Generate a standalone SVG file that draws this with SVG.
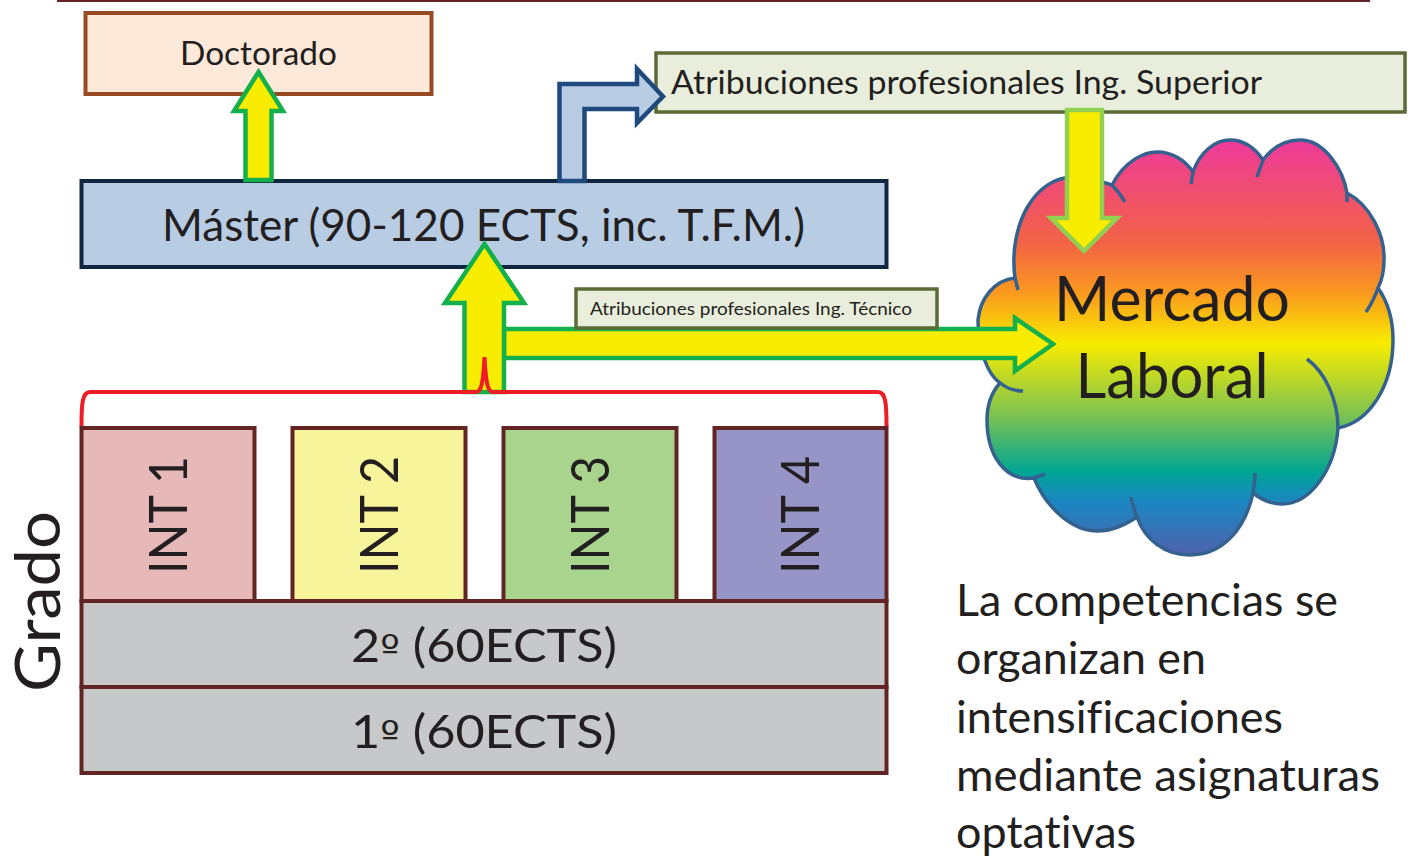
<svg xmlns="http://www.w3.org/2000/svg" width="1416" height="857" viewBox="0 0 1416 857">
<defs>
<style>
text{font-family:Lato,"Open Sans","Liberation Sans",sans-serif;fill:#231f20;font-variant-ligatures:none}
.int{stroke:#632523;stroke-width:4}
.ya{fill:#f8ec00;stroke:#14b04c;stroke-width:4.500;stroke-linejoin:miter}
.ord{font-family:"DejaVu Sans",sans-serif;font-size:38px}
</style>
<linearGradient id="rb" x1="0" y1="0" x2="0" y2="1">
<stop offset="0" stop-color="#ee3a9b"/>
<stop offset="0.25" stop-color="#f26344"/>
<stop offset="0.37" stop-color="#fa9a1e"/>
<stop offset="0.49" stop-color="#f8ec00"/>
<stop offset="0.66" stop-color="#7fc350"/>
<stop offset="0.8" stop-color="#00a494"/>
<stop offset="0.87" stop-color="#1a87c2"/>
<stop offset="1" stop-color="#4e62ac"/>
</linearGradient>
</defs>
<rect width="1416" height="857" fill="#fff"/>
<rect x="57" y="0" width="1313" height="2" fill="#632523"/>

<g id="cloud">
<path fill="url(#rb)" stroke="#35618f" stroke-width="3.500" d="M1015 278C1008 225 1035 176 1075 177C1090 177 1105 183 1112 185C1125 160 1145 152 1157 152C1172 152 1185 160 1193 172C1200 152 1215 140 1230 140C1245 140 1255 148 1263 160C1272 148 1285 140 1300 140C1325 140 1343 170 1347 193C1370 205 1385 235 1384 260C1384 270 1382 280 1378 288C1390 305 1393 325 1393 340C1393 385 1370 422 1338 428C1335 470 1310 504 1282 504C1272 504 1262 500 1253 493C1245 530 1222 555 1190 555C1165 555 1145 540 1137 517C1125 525 1112 531 1098 531C1070 531 1045 505 1034 478C1005 482 987 455 987 420C987 405 992 392 1000 383C988 375 978 350 978 320C980 298 995 280 1015 278Z"/>
<path fill="none" stroke="#35618f" stroke-width="3.500" d="M1015 278L1018 290M1112 185Q1120 193 1125 202M1193 172L1191 184M1263 160L1257 177M1347 193L1347 202M1378 288Q1373 302 1366 312M1338 428C1338 400 1325 372 1307 359M1253 493C1254 487 1255 480 1255 473M1137 517Q1133 507 1131 497M1034 478L1045 474M1000 383Q1010 391 1023 391"/>
<text x="1172" y="321" font-size="62" text-anchor="middle" textLength="236" lengthAdjust="spacingAndGlyphs">Mercado</text>
<text x="1172" y="398" font-size="62" text-anchor="middle" textLength="193" lengthAdjust="spacingAndGlyphs">Laboral</text>
</g>

<g id="doctorado">
<rect x="85.500" y="13" width="346" height="81" fill="#fde9d9" stroke="#974b22" stroke-width="4"/>
<text x="180" y="65" font-size="33" textLength="157" lengthAdjust="spacingAndGlyphs">Doctorado</text>
</g>
<g id="master">
<rect x="81.500" y="181" width="805" height="86" fill="#b8cce4" stroke="#10253f" stroke-width="4"/>
<text x="162" y="241" font-size="45" textLength="643" lengthAdjust="spacingAndGlyphs">Máster (90-120 ECTS, inc. T.F.M.)</text>
</g>
<g id="atrib-superior">
<rect x="656" y="53" width="749" height="59" fill="#e9eedc" stroke="#5a6b35" stroke-width="3.500"/>
<text x="671" y="94" font-size="32" textLength="591" lengthAdjust="spacingAndGlyphs">Atribuciones profesionales Ing. Superior</text>
</g>

<g id="connectors">
<path class="ya" d="M258.500 72L283 111H271.500V180H245.500V111H234Z"/>
<path fill="#b8cce4" stroke="#1f497d" stroke-width="4.500" d="M559.500 181V84H637V69L663 96.500L637 123V109H584.500V181Z"/>
<path class="ya" style="stroke:#92d050" d="M1067 110H1102V218H1117L1084 251L1051 218H1067Z"/>
<path class="ya" d="M504 329H1015V318L1053 344L1015 371V358H504Z"/>
<path class="ya" d="M484.500 244L524 303H504V392H464.500V303H445Z"/>
<path fill="none" stroke="#ee1c25" stroke-width="4" stroke-linecap="round" d="M81.500 426C81.500 405 82 392 90 392H476C481 392 483 385 484.500 357C486 385 488 392 493 392H878C886 392 886.500 405 886.500 426"/>
</g>

<g id="atrib-tecnico">
<rect x="576" y="289" width="361" height="39" fill="#e9eedc" stroke="#5a6b35" stroke-width="3.500"/>
<text x="590" y="315" font-size="18" textLength="322" lengthAdjust="spacingAndGlyphs">Atribuciones profesionales Ing. Técnico</text>
</g>

<g id="int1"><rect class="int" x="81.500" y="428" width="173" height="173" fill="#e6b8b7"/><text transform="translate(187 574) rotate(-90)" font-size="52" textLength="118" lengthAdjust="spacingAndGlyphs">INT 1</text></g>
<g id="int2"><rect class="int" x="292.500" y="428" width="173" height="173" fill="#f8f49b"/><text transform="translate(398 574) rotate(-90)" font-size="52" textLength="118" lengthAdjust="spacingAndGlyphs">INT 2</text></g>
<g id="int3"><rect class="int" x="503.500" y="428" width="173" height="173" fill="#a8d48d"/><text transform="translate(609 574) rotate(-90)" font-size="52" textLength="118" lengthAdjust="spacingAndGlyphs">INT 3</text></g>
<g id="int4"><rect class="int" x="714.500" y="428" width="172" height="173" fill="#9795c8"/><text transform="translate(819 574) rotate(-90)" font-size="52" textLength="118" lengthAdjust="spacingAndGlyphs">INT 4</text></g>
<g id="y2"><rect class="int" x="81.500" y="601" width="805" height="86" fill="#c7c8ca"/><text x="351" y="662" font-size="46" textLength="266" lengthAdjust="spacingAndGlyphs">2<tspan class="ord">º</tspan> (60ECTS)</text></g>
<g id="y1"><rect class="int" x="81.500" y="687" width="805" height="86" fill="#c7c8ca"/><text x="351" y="748" font-size="46" textLength="266" lengthAdjust="spacingAndGlyphs">1<tspan class="ord">º</tspan> (60ECTS)</text></g>
<g id="grado"><text transform="translate(60 692) rotate(-90)" font-size="62" textLength="181" lengthAdjust="spacingAndGlyphs">Grado</text></g>
<g id="note" font-size="44">
<text x="956" y="616" textLength="382" lengthAdjust="spacingAndGlyphs">La competencias se</text>
<text x="956" y="674" textLength="250" lengthAdjust="spacingAndGlyphs">organizan en</text>
<text x="956" y="733" textLength="327" lengthAdjust="spacingAndGlyphs">intensificaciones</text>
<text x="956" y="791" textLength="424" lengthAdjust="spacingAndGlyphs">mediante asignaturas</text>
<text x="956" y="848" textLength="180" lengthAdjust="spacingAndGlyphs">optativas</text>
</g>
</svg>
